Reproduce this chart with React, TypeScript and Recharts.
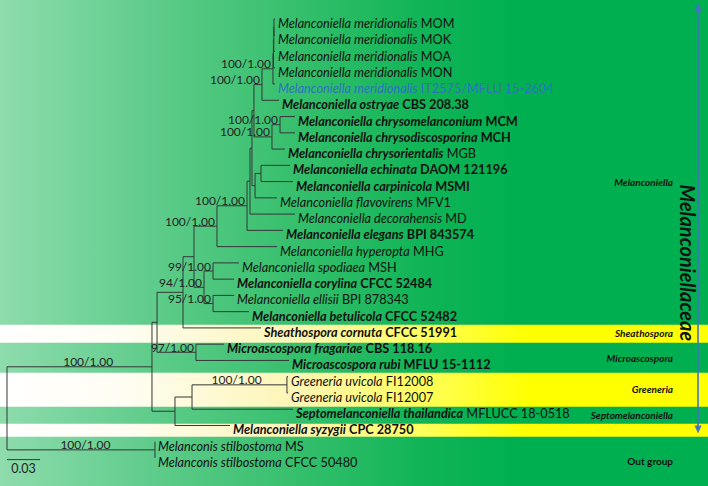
import { ScatterChart, Scatter, XAxis, YAxis, ReferenceLine, ReferenceArea } from 'recharts';

// leaves, top to bottom (row index = position in list)
const leafNames = [
  'Melanconiella meridionalis', 'Melanconiella meridionalis', 'Melanconiella meridionalis',
  'Melanconiella meridionalis', 'Melanconiella meridionalis', 'Melanconiella ostryae',
  'Melanconiella chrysomelanconium', 'Melanconiella chrysodiscosporina', 'Melanconiella chrysorientalis',
  'Melanconiella echinata', 'Melanconiella carpinicola', 'Melanconiella flavovirens',
  'Melanconiella decorahensis', 'Melanconiella elegans', 'Melanconiella hyperopta',
  'Melanconiella spodiaea', 'Melanconiella corylina', 'Melanconiella ellisii',
  'Melanconiella betulicola', 'Sheathospora cornuta', 'Microascospora fragariae',
  'Microascospora rubi', 'Greeneria uvicola', 'Greeneria uvicola',
  'Septomelanconiella thailandica', 'Melanconiella syzygii', 'Melanconis stilbostoma',
  'Melanconis stilbostoma',
];
const leafStrains = [
  'MOM', 'MOK', 'MOA', 'MON', 'IT2575/MFLU 15-2604', 'CBS 208.38', 'MCM', 'MCH', 'MGB',
  'DAOM 121196', 'MSMI', 'MFV1', 'MD', 'BPI 843574', 'MHG', 'MSH', 'CFCC 52484', 'BPI 878343',
  'CFCC 52482', 'CFCC 51991', 'CBS 118.16', 'MFLU 15-1112', 'FI12008', 'FI12007',
  'MFLUCC 18-0518', 'CPC 28750', 'MS', 'CFCC 50480',
];
// distance from root (substitutions / site)
const leafDepths = [
  0.2436, 0.2436, 0.2436, 0.2436, 0.2436, 0.2473, 0.2618, 0.2618, 0.2527,
  0.2573, 0.26, 0.2455, 0.2618, 0.2509, 0.2455, 0.2109, 0.2064, 0.2064,
  0.22, 0.2309, 0.1973, 0.2564, 0.2555, 0.2555, 0.26, 0.2027, 0.1345, 0.1345,
];
const leafNameBold = [0, 0, 0, 0, 0, 1, 1, 1, 1, 1, 1, 0, 0, 1, 0, 0, 1, 0, 1, 1, 1, 1, 0, 0, 1, 1, 0, 0];
const leafStrainBold = [0, 0, 0, 0, 0, 1, 1, 1, 0, 1, 1, 0, 0, 1, 0, 0, 1, 0, 1, 1, 1, 1, 0, 0, 0, 1, 0, 0];
const newLeaf = 4;

// internal nodes: id, depth, children (Ln = leaf n)
const nodeIds = [
  'root', 'N1', 'O', 'P', 'G', 'A', 'B', 'C', 'C1', 'C2', 'M', 'H', 'Mer', 'Mer3', 'Mer2', 'Mer1',
  'J', 'I', 'C3', 'L', 'D', 'E', 'F', 'Micro', 'Q', 'Q2', 'Gr',
];
const nodeDepths = [
  0, 0.1318, 0.1345, 0.1364, 0.16, 0.17, 0.1909, 0.2182, 0.2209, 0.2227, 0.2245, 0.2318, 0.2418,
  0.2422, 0.2425, 0.2427, 0.2409, 0.2482, 0.2255, 0.2309, 0.1791, 0.1873, 0.1873, 0.1718, 0.1527,
  0.1682, 0.2545,
];
const nodeChildren = [
  ['N1', 'O'], ['P', 'Q'], ['L26', 'L27'], ['G', 'Micro'], ['A', 'L19'], ['B', 'D'], ['C', 'L14'],
  ['C1', 'L13'], ['C2', 'L12'], ['M', 'C3'], ['H', 'J'], ['Mer', 'L5'], ['Mer3', 'L4'], ['Mer2', 'L3'],
  ['Mer1', 'L2'], ['L0', 'L1'], ['I', 'L8'], ['L6', 'L7'], ['L', 'L11'], ['L9', 'L10'], ['E', 'F'],
  ['L15', 'L16'], ['L17', 'L18'], ['L20', 'L21'], ['Q2', 'L25'], ['Gr', 'L24'], ['L22', 'L23'],
];

// bootstrap / posterior support
const supportNodes = ['Mer', 'H', 'I', 'J', 'C', 'B', 'E', 'D', 'F', 'Micro', 'N1', 'Gr', 'O'];
const supportValues = [
  '100/1.00', '100/1.00', '100/1.00', '100/1.00', '100/1.00', '100/1.00', '99/1.00', '94/1.00',
  '95/1.00', '97/1.00', '100/1.00', '100/1.00', '100/1.00',
];
// labels written along the branch instead of at its node (fraction of branch)
const centredSupport = ['N1', 'Gr', 'O'];
const centredAt = [0.56, 0.47, 0.53];

const bandRows = [[18.81, 19.91], [21.76, 23.85], [24.89, 25.69]];
const cladeNames = ['Melanconiella', 'Sheathospora', 'Microascospora', 'Greeneria', 'Septomelanconiella', 'Out group'];
const cladeRows = [10.02, 19.3, 20.84, 22.74, 24.34, 27.17];
const familyName = 'Melanconiellaceae';
const scaleBar = 0.03;

const W = 708;
const H = 486;
const X_DOMAIN: [number, number] = [-7 / 1100, 701 / 1100];
const Y_DOMAIN: [number, number] = [-1.1686, 28.7225];
const FONT = 'Lato, "Open Sans", sans-serif';
const LINE = '#363636';

// tree layout
const row: Record<string, number> = {};
const depth: Record<string, number> = {};
leafNames.forEach((_, i) => {
  row['L' + i] = i;
  depth['L' + i] = leafDepths[i];
});
nodeIds.forEach((id, i) => (depth[id] = nodeDepths[i]));
const kidsOf = (id: string) => nodeChildren[nodeIds.indexOf(id)];
const place = (id: string): number => {
  if (id in row) return row[id];
  const kids = kidsOf(id);
  kids.forEach(place);
  row[id] = (row[kids[0]] + row[kids[kids.length - 1]]) / 2;
  return row[id];
};
place('root');

const parentOf: Record<string, string> = {};
nodeIds.forEach((id, i) => nodeChildren[i].forEach((k) => (parentOf[k] = id)));

const segments: { x1: number; y1: number; x2: number; y2: number }[] = [];
nodeIds.forEach((id) => {
  const kids = kidsOf(id);
  segments.push({ x1: depth[id], y1: row[kids[0]], x2: depth[id], y2: row[kids[kids.length - 1]] });
  kids.forEach((k) => segments.push({ x1: depth[id], y1: row[k], x2: depth[k], y2: row[k] }));
});

const leafData = leafNames.map((n, i) => ({
  x: leafDepths[i],
  y: i,
  name: n,
  strain: leafStrains[i],
  nb: leafNameBold[i],
  sb: leafStrainBold[i],
  blue: i === newLeaf,
}));

const supportData = supportNodes.map((id, i) => {
  const c = centredSupport.indexOf(id);
  const from = depth[parentOf[id]];
  return {
    x: c >= 0 ? from + (depth[id] - from) * centredAt[c] : depth[id],
    y: row[id],
    text: supportValues[i],
    anchor: c >= 0 ? 'middle' : 'end',
  };
});

const cladeData = cladeNames.map((n, i) => ({ x: 0.6055, y: cladeRows[i], text: n }));

const LeafLabel = (p: any) => {
  const d = p.payload;
  const col = d.blue ? '#2f72c0' : '#111';
  return (
    <text x={p.cx + 3} y={p.cy + 4} dominantBaseline="central" fontFamily={FONT} fontSize={12.7} fill={col}>
      <tspan fontStyle="italic" fontWeight={d.nb ? 700 : 400}>{d.name}</tspan>
      <tspan fontWeight={d.sb ? 700 : 400}> {d.strain}</tspan>
    </text>
  );
};

const SupportLabel = (p: any) => {
  const d = p.payload;
  return (
    <text
      x={d.anchor === 'end' ? p.cx - 2 : p.cx}
      y={p.cy - 0.5}
      textAnchor={d.anchor}
      fontFamily={FONT}
      fontSize={12}
      fill="#222"
    >
      {d.text}
    </text>
  );
};

const CladeLabel = (p: any) => (
  <text
    x={p.cx}
    y={p.cy}
    textAnchor="end"
    dominantBaseline="central"
    fontFamily={FONT}
    fontSize={10}
    fontWeight={700}
    fontStyle={p.payload.text === 'Out group' ? 'normal' : 'italic'}
    fill="#111"
  >
    {p.payload.text}
  </text>
);

const FamilyLabel = (p: any) => (
  <text
    x={p.cx}
    y={p.cy}
    transform={`rotate(90 ${p.cx} ${p.cy})`}
    textAnchor="middle"
    dominantBaseline="central"
    fontFamily={FONT}
    fontSize={20}
    fontWeight={700}
    fontStyle="italic"
    fill="#111"
  >
    {familyName}
  </text>
);

const ScaleText = (p: any) => (
  <text x={p.cx} y={p.cy} textAnchor="middle" dominantBaseline="central" fontFamily={FONT} fontSize={12.5} fill="#222">
    {scaleBar.toFixed(2)}
  </text>
);

const Arrow = (p: any) => {
  const { x1, y1, x2, y2 } = p;
  const c = '#4472c4';
  return (
    <g>
      <line x1={x1} y1={y1 + 6} x2={x2} y2={y2 - 6} stroke={c} strokeWidth={1.6} />
      <polygon points={`${x1},${y1} ${x1 - 3.5},${y1 + 8} ${x1 + 3.5},${y1 + 8}`} fill={c} />
      <polygon points={`${x2},${y2} ${x2 - 3.5},${y2 - 8} ${x2 + 3.5},${y2 - 8}`} fill={c} />
    </g>
  );
};

export default function App() {
  return (
    <div
      style={{
        width: W,
        height: H,
        background:
          'linear-gradient(to right, #8edcac 0%, #62cd8d 20%, #35bf6c 42%, #10b457 60%, #00b050 72%, #00b050 100%)',
      }}
    >
      <style>{'body{margin:0}'}</style>
      <ScatterChart width={W} height={H} margin={{ top: 0, right: 0, bottom: 0, left: 0 }}>
        <defs>
          <linearGradient id="band" x1="0" y1="0" x2="1" y2="0">
            <stop offset="0%" stopColor="#ffffff" />
            <stop offset="18%" stopColor="#fffdf2" />
            <stop offset="42%" stopColor="#fcf5b4" />
            <stop offset="60%" stopColor="#ffff5a" />
            <stop offset="75%" stopColor="#ffff00" />
            <stop offset="100%" stopColor="#ffff00" />
          </linearGradient>
        </defs>
        <XAxis type="number" dataKey="x" domain={X_DOMAIN} allowDataOverflow hide />
        <YAxis type="number" dataKey="y" domain={Y_DOMAIN} allowDataOverflow reversed hide />
        {bandRows.map(([a, b], i) => (
          <ReferenceArea key={'b' + i} y1={a} y2={b} fill="url(#band)" fillOpacity={1} stroke="none" ifOverflow="visible" />
        ))}
        {segments.map((s, i) => (
          <ReferenceLine
            key={'s' + i}
            segment={[{ x: s.x1, y: s.y1 }, { x: s.x2, y: s.y2 }]}
            stroke={LINE}
            strokeWidth={1}
            ifOverflow="visible"
          />
        ))}
        <ReferenceLine
          segment={[{ x: 0, y: 27.1 }, { x: scaleBar, y: 27.1 }]}
          stroke={LINE}
          strokeWidth={1}
          ifOverflow="visible"
        />
        <ReferenceLine
          segment={[{ x: 0.6282, y: -0.98 }, { x: 0.6282, y: 25.5 }]}
          shape={Arrow}
          ifOverflow="visible"
        />
        <Scatter data={leafData} shape={LeafLabel} isAnimationActive={false} />
        <Scatter data={supportData} shape={SupportLabel} isAnimationActive={false} />
        <Scatter data={cladeData} shape={CladeLabel} isAnimationActive={false} />
        <Scatter data={[{ x: 0.6191, y: 15.0 }]} shape={FamilyLabel} isAnimationActive={false} />
        <Scatter data={[{ x: scaleBar / 2, y: 27.66 }]} shape={ScaleText} isAnimationActive={false} />
      </ScatterChart>
    </div>
  );
}
